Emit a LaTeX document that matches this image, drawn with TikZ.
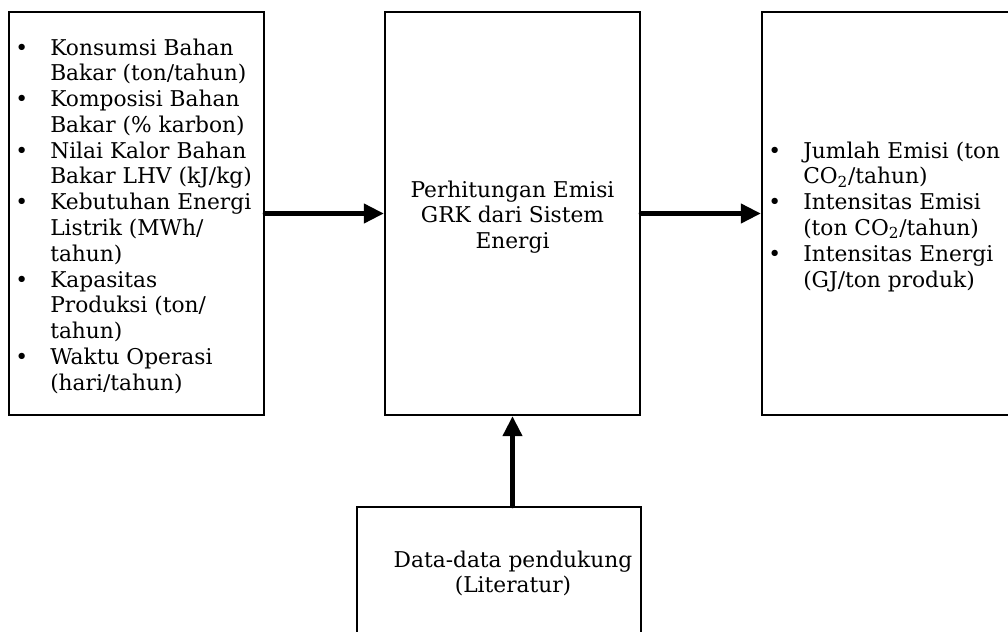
\documentclass[tikz,border=0pt]{standalone}
\usepackage{fontspec}
\setmainfont{DejaVu Serif}
\usetikzlibrary{arrows.meta}
\begin{document}
\begin{tikzpicture}[x=0.75pt,y=-0.75pt,
  box/.style={draw, line width=1.6pt, minimum width=191.25pt, minimum height=302.25pt, inner sep=0pt},
  arr/.style={line width=3.6pt, line cap=round, -{Triangle[length=15pt,width=14pt]}},
  txt/.style={inner sep=0pt, font=\fontsize{16.3}{19.35}\selectfont}]
\useasboundingbox (0,0) rectangle (1008,632);
\clip (0,0) rectangle (1008,632);
\node[box] (L) at (136.5,213.5) {};
\node[box] (M) at (512.5,213.5) {};
\node[box] (R) at (889.5,213.5) {};
\node[draw, line width=1.6pt, minimum width=213pt, minimum height=109.5pt, inner sep=0pt] (B) at (499,580) {};
\node[txt, anchor=base west] (Ltext) at (15,55) {\begin{tabular}[t]{@{}p{26.25pt}@{}l@{}}
\textbullet & Konsumsi Bahan\\
 & Bakar (ton/tahun)\\
\textbullet & Komposisi Bahan\\
 & Bakar (\% karbon)\\
\textbullet & Nilai Kalor Bahan\\
 & Bakar LHV (kJ/kg)\\
\textbullet & Kebutuhan Energi\\
 & Listrik (MWh/\\
 & tahun)\\
\textbullet & Kapasitas\\
 & Produksi (ton/\\
 & tahun)\\
\textbullet & Waktu Operasi\\
 & (hari/tahun)
\end{tabular}};
\node[txt, anchor=base] (Mtext) at (512.5,197) {\begin{tabular}[t]{@{}c@{}}
Perhitungan Emisi\\ GRK dari Sistem\\ Energi\end{tabular}};
\node[txt, anchor=base west] (Rtext) at (768,158) {\begin{tabular}[t]{@{}p{26.25pt}@{}l@{}}
\textbullet & Jumlah Emisi (ton\\
 & CO\textsubscript{2}/tahun)\\
\textbullet & Intensitas Emisi\\
 & (ton CO\textsubscript{2}/tahun)\\
\textbullet & Intensitas Energi\\
 & (GJ/ton produk)
\end{tabular}};
\node[txt, anchor=base] (Btext) at (513,567) {\begin{tabular}[t]{@{}c@{}}
Data-data pendukung\\ (Literatur)\end{tabular}};
\draw[arr] (L) -- (M);
\draw[arr] (M) -- (R);
\draw[arr] (B.north -| M.south) -- (M.south);
\end{tikzpicture}
\end{document}
